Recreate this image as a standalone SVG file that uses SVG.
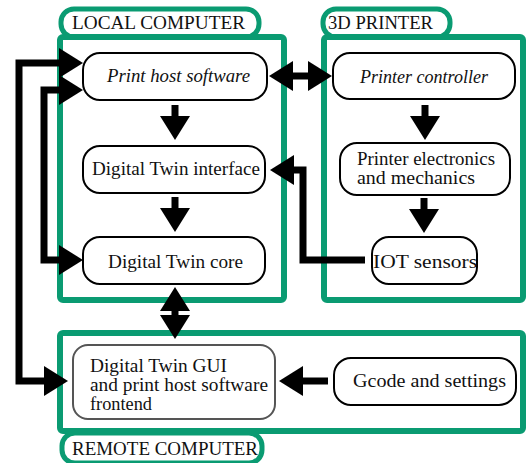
<svg xmlns="http://www.w3.org/2000/svg" width="526" height="463" viewBox="0 0 526 463">
<style>
.frame{fill:#fff;stroke:#0a9b72;stroke-width:6;}
.tab{fill:#fff;stroke:#0a9b72;stroke-width:5;}
.node{fill:#fff;stroke:#000;stroke-width:2;}
.gui{fill:#fff;stroke:#555;stroke-width:2;}
.t{font-family:'Liberation Serif','DejaVu Serif',serif;font-size:18px;fill:#111;}
.cap{font-size:19px;}
.it{font-style:italic;}
.arr{fill:none;stroke:#000;stroke-width:7;stroke-linejoin:miter;stroke-linecap:butt;marker-end:url(#ah);}
.dbl{marker-start:url(#ah);}
</style>
<defs>
<marker id="ah" viewBox="0 0 24 30" refX="1" refY="15" markerWidth="24" markerHeight="30" markerUnits="userSpaceOnUse" orient="auto-start-reverse">
<path d="M0,0 L24,15 L0,30 z" fill="#000"/>
</marker>
</defs>
<rect width="526" height="463" fill="#fff"/>
<g id="local-computer">
<rect class="tab" x="61" y="9" width="198" height="28" rx="13"/>
<rect class="frame" x="60" y="37" width="224" height="263" rx="3"/>
<text class="t cap" x="72" y="29" textLength="173" lengthAdjust="spacingAndGlyphs">LOCAL COMPUTER</text>
</g>
<g id="printer">
<rect class="tab" x="323" y="9" width="127" height="28" rx="13"/>
<rect class="frame" x="324" y="37" width="199" height="263" rx="3"/>
<text class="t cap" x="328" y="29" textLength="105" lengthAdjust="spacingAndGlyphs">3D PRINTER</text>
</g>
<g id="remote-computer">
<rect class="tab" x="62" y="433" width="200" height="30" rx="13"/>
<rect class="frame" x="60" y="333" width="463" height="98" rx="3"/>
<text class="t cap" x="72" y="455" textLength="186" lengthAdjust="spacingAndGlyphs">REMOTE COMPUTER</text>
</g>
<g id="print-host">
<rect class="node" x="83" y="53" width="184" height="47" rx="17"/>
<text class="t it" x="107" y="82" textLength="143" lengthAdjust="spacingAndGlyphs">Print host software</text>
</g>
<g id="dt-interface">
<rect class="node" x="83" y="146" width="182" height="47" rx="17"/>
<text class="t" x="92" y="175" textLength="168" lengthAdjust="spacingAndGlyphs">Digital Twin interface</text>
</g>
<g id="dt-core">
<rect class="node" x="83" y="237" width="182" height="47" rx="17"/>
<text class="t" x="108" y="268" textLength="135" lengthAdjust="spacingAndGlyphs">Digital Twin core</text>
</g>
<g id="printer-controller">
<rect class="node" x="333" y="53" width="182" height="46" rx="17"/>
<text class="t it" x="360" y="83" textLength="128" lengthAdjust="spacingAndGlyphs">Printer controller</text>
</g>
<g id="printer-electronics">
<rect class="node" x="340" y="143" width="170" height="52" rx="17"/>
<text class="t" x="357" y="165" textLength="138" lengthAdjust="spacingAndGlyphs">Printer electronics</text>
<text class="t" x="357" y="184" textLength="118" lengthAdjust="spacingAndGlyphs">and mechanics</text>
</g>
<g id="iot-sensors">
<rect class="node" x="372" y="237" width="105" height="47" rx="17"/>
<text class="t" x="373" y="268" textLength="104" lengthAdjust="spacingAndGlyphs">IOT sensors</text>
</g>
<g id="dt-gui">
<rect class="gui" x="73" y="345" width="202" height="74" rx="15"/>
<text class="t" x="90" y="372" textLength="137" lengthAdjust="spacingAndGlyphs">Digital Twin GUI</text>
<text class="t" x="90" y="391" textLength="178" lengthAdjust="spacingAndGlyphs">and print host software</text>
<text class="t" x="90" y="410" textLength="62" lengthAdjust="spacingAndGlyphs">frontend</text>
</g>
<g id="gcode">
<rect class="node" x="334" y="358" width="182" height="47" rx="17"/>
<text class="t" x="353" y="387" textLength="153" lengthAdjust="spacingAndGlyphs">Gcode and settings</text>
</g>
<g id="connectors">
<path class="arr" d="M175,105 L175,117"/>
<path class="arr" d="M175,197 L175,209"/>
<path class="arr dbl" d="M292,76 L309,76"/>
<path class="arr" d="M425,105 L425,117"/>
<path class="arr" d="M424,198 L424,210"/>
<path class="arr" d="M365,260 H303 V170 H293"/>
<path class="arr dbl" d="M175,310 L175,316"/>
<path class="arr dbl" d="M60,63 H19 V381 H45"/>
<path class="arr dbl" d="M60,90 H44 V260 H60"/>
<path class="arr" d="M328,381 H302"/>
</g>
</svg>
